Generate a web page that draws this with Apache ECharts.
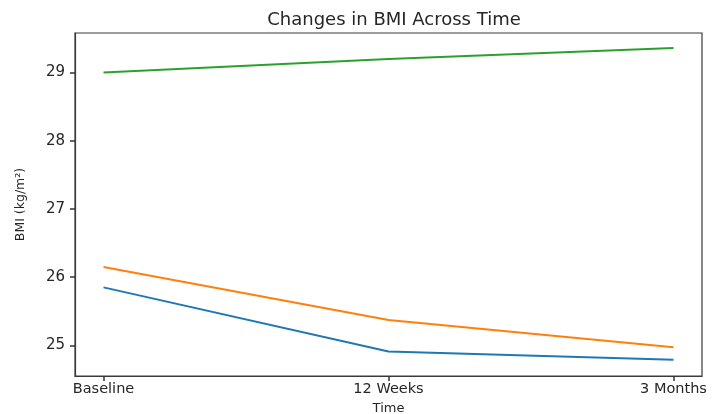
<!DOCTYPE html>
<html>
<head>
<meta charset="utf-8">
<script src="https://cdn.jsdelivr.net/npm/echarts@6/dist/echarts.min.js"></script>
<style>
  html, body { margin: 0; padding: 0; background: #fff; }
  #chart { width: 713px; height: 414px; }
</style>
</head>
<body>
<div id="chart"></div>
<script>
// time points and BMI values per group
const categories = ["Baseline", "12 Weeks", "3 Months"];
const yTicks = [25, 26, 27, 28, 29];
const seriesA = [25.85, 24.91, 24.79];
const seriesB = [26.15, 25.37, 24.97];
const seriesC = [29.0, 29.2, 29.36];

const font = "DejaVu Sans";
const textColor = "#262626";
const frame = { color: "#3a3a3a", width: 1.2 };
const tickStyle = { color: "#333", width: 1.5 };

const toPoints = vals => vals.map((v, i) => [i, v]);

const chart = echarts.init(document.getElementById("chart"));
chart.setOption({
  animation: false,
  title: {
    text: "Changes in BMI Across Time",
    left: 389,
    top: 6,
    textAlign: "center",
    textStyle: { fontFamily: font, fontSize: 18, fontWeight: "normal", color: textColor }
  },
  grid: {
    left: 75,
    right: 11,
    top: 33,
    bottom: 38,
    outerBoundsMode: "none",
    containLabel: false,
    show: true,
    borderColor: frame.color,
    borderWidth: frame.width
  },
  xAxis: {
    type: "value",
    min: -0.1,
    max: 2.1,
    name: "Time",
    nameLocation: "middle",
    nameGap: 25,
    nameTextStyle: { fontFamily: font, fontSize: 13, color: textColor },
    splitLine: { show: false },
    axisLine: { show: true, onZero: false, lineStyle: frame },
    axisTick: { show: true, customValues: [0, 1, 2], length: 5, lineStyle: tickStyle },
    axisLabel: {
      customValues: [0, 1, 2],
      formatter: v => categories[Math.round(v)],
      fontFamily: font,
      fontSize: 14.5,
      color: textColor,
      margin: 6
    }
  },
  yAxis: {
    type: "value",
    min: 24.55,
    max: 29.58,
    name: "BMI (kg/m²)",
    nameLocation: "middle",
    nameGap: 48,
    nameTextStyle: { fontFamily: font, fontSize: 12.5, color: textColor },
    splitLine: { show: false },
    axisLine: { show: true, onZero: false, lineStyle: frame },
    axisTick: { show: true, customValues: yTicks, length: 5, lineStyle: tickStyle },
    axisLabel: {
      customValues: yTicks,
      fontFamily: font,
      fontSize: 15,
      color: textColor,
      margin: 10
    }
  },
  series: [
    { name: "A", type: "line", data: toPoints(seriesA), showSymbol: false, lineStyle: { width: 2, color: "#1f77b4" } },
    { name: "B", type: "line", data: toPoints(seriesB), showSymbol: false, lineStyle: { width: 2, color: "#ff7f0e" } },
    { name: "C", type: "line", data: toPoints(seriesC), showSymbol: false, lineStyle: { width: 2, color: "#2ca02c" } }
  ]
});
</script>
</body>
</html>
